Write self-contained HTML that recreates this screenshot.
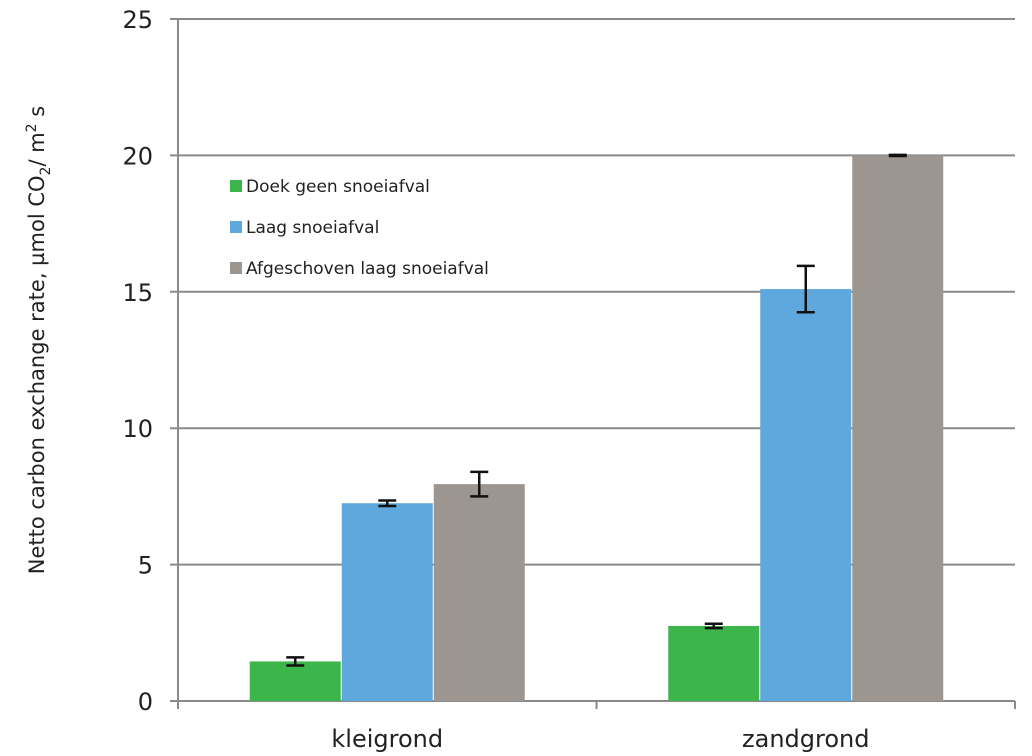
<!DOCTYPE html>
<html><head><meta charset="utf-8"><style>
body{margin:0;background:#fff;}
svg{display:block;font-family:"DejaVu Sans","Liberation Sans",sans-serif;}
</style></head><body>
<svg id="chart" width="1032" height="756"></svg>
<script>
const categories=["kleigrond","zandgrond"];
const seriesNames=["Doek geen snoeiafval","Laag snoeiafval","Afgeschoven laag snoeiafval"];
const seriesColors=["#3cb54a","#5fa8dd","#9d958f"];
const valuesGreen=[1.45,2.75];
const valuesBlue=[7.25,15.1];
const valuesGray=[7.95,20.0];
const errGreen=[0.15,0.08];
const errBlue=[0.1,0.85];
const errGray=[0.45,0.02];
const yTicks=[0,5,10,15,20,25];

const NS="http://www.w3.org/2000/svg";
const svg=document.getElementById('chart');
const L=178,R=1015,T=19,B=701,yMax=25;
const y=v=>B-(v/yMax)*(B-T);
const slot=(R-L)/categories.length;
const barW=92;
function mk(tag,attrs,parent){const e=document.createElementNS(NS,tag);for(const k in attrs)e.setAttribute(k,attrs[k]);(parent||svg).appendChild(e);return e;}

yTicks.forEach(t=>{
  const g=mk('line',{x1:170,x2:t===0?R:R,y1:y(t),y2:y(t),stroke:'#8a8a8a','stroke-width':2});
  
  
  const tx=mk('text',{x:153,y:y(t)+9,'text-anchor':'end','font-size':24,fill:'#222'});
  tx.textContent=t;
  
  
});
const ax=mk('line',{x1:L,x2:L,y1:T,y2:B,stroke:'#8a8a8a','stroke-width':2});


for(let i=0;i<=categories.length;i++){
  const tk=mk('line',{x1:L+i*slot,x2:L+i*slot,y1:B,y2:B+8,stroke:'#8a8a8a','stroke-width':2});
  
  
}
const series=[valuesGreen,valuesBlue,valuesGray];
const errs=[errGreen,errBlue,errGray];
categories.forEach((c,ci)=>{
  const cx=L+slot*(ci+0.5);
  series.forEach((vals,si)=>{
    const x0=cx-1.5*barW+si*barW;
    const v=vals[ci];
    const r=mk('rect',{x:x0+0.5,y:y(v),width:barW-1,height:B-y(v),fill:seriesColors[si]});
    
    
    const e=errs[si][ci],mx=x0+barW/2;
    const eg=mk('g',{stroke:'#111','stroke-width':2.5});
    
    
    mk('line',{x1:mx,x2:mx,y1:y(v+e),y2:y(v-e)},eg);
    mk('line',{x1:mx-9,x2:mx+9,y1:y(v+e),y2:y(v+e)},eg);
    mk('line',{x1:mx-9,x2:mx+9,y1:y(v-e),y2:y(v-e)},eg);
  });
  const t=mk('text',{x:cx,y:747,'text-anchor':'middle','font-size':24,fill:'#222'});
  t.textContent=c;
  
  
});
seriesNames.forEach((n,i)=>{
  const ly=187+i*41;
  const s=mk('rect',{x:230,y:ly-7,width:12,height:12,fill:seriesColors[i]});
  
  
  const t=mk('text',{x:246,y:ly+5,'font-size':17,fill:'#222'});
  t.textContent=n;
  
  
});
const yl=mk('text',{transform:'translate(44,340) rotate(-90)','text-anchor':'middle','font-size':21,fill:'#222'});
yl.innerHTML='Netto carbon exchange rate, µmol CO<tspan font-size="14" dy="6">2</tspan><tspan dy="-6">/ m</tspan><tspan font-size="14" dy="-8">2</tspan><tspan dy="8"> s</tspan>';


</script>
</body></html>
